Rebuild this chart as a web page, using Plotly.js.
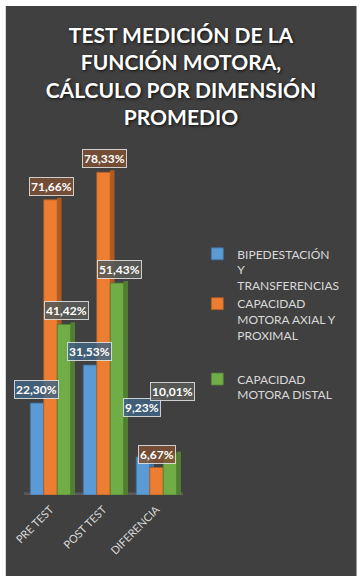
<!DOCTYPE html>
<html>
<head>
<meta charset="utf-8">
<script src="https://cdn.plot.ly/plotly-3.0.1.min.js"></script>
<style>
  html, body { margin: 0; padding: 0; background: #ffffff; }
  #frame { position: absolute; left: 5px; top: 6px; width: 350px; height: 570px;
           border-right: 1px solid #9a9a9a; border-left: 1px solid #d8d8d8; box-sizing: content-box; }
  #chart { width: 350px; height: 570px; }
</style>
</head>
<body>
<div id="frame"><div id="chart"></div></div>
<script>
// ---- data ----
const categories = ["PRE TEST", "POST TEST", "DIFERENCIA"];
const seriesNames = [
  "BIPEDESTACIÓN<br>Y<br>TRANSFERENCIAS",
  "CAPACIDAD<br>MOTORA AXIAL Y<br>PROXIMAL<br> ",
  "CAPACIDAD<br>MOTORA DISTAL"
];
const bipedestacion = [22.30, 31.53, 9.23];
const capacidadAxial = [71.66, 78.33, 6.67];
const capacidadDistal = [41.42, 51.43, 10.01];
const valueLabels = [
  ["22,30%", "31,53%", "9,23%"],
  ["71,66%", "78,33%", "6,67%"],
  ["41,42%", "51,43%", "10,01%"]
];
const titleText = "TEST MEDICIÓN DE LA<br>FUNCIÓN MOTORA,<br>CÁLCULO POR DIMENSIÓN<br>PROMEDIO";

// ---- styling ----
const seriesValues = [bipedestacion, capacidadAxial, capacidadDistal];
const faceColors = ["#5B9BD5", "#ED7D31", "#70AD47"];
const sideColors = ["#41719C", "#AE5A21", "#507E32"];
const labelBg = ["rgba(66,100,130,0.85)", "rgba(125,80,52,0.85)", "rgba(88,90,86,0.9)"];
const legendGroups = ["a", "a", "b"];
const BW = 15 / 59;          // bar width in category units
const SIDE = 5 / 59;         // 3D side width
const FONT = "Lato, 'Open Sans', sans-serif";
// extra vertical lift (px) for crowded labels, [series][category]
const labelLift = [[0, 0, 36], [0, 0, 0], [0, 0, 49]];

const traces = [];
const annotations = [];
seriesValues.forEach((vals, i) => {
  const off = -1.5 * BW + i * BW;
  traces.push({
    type: "bar", x: categories, y: vals.map(v => v + 0.5),
    offset: off + BW - 0.2 / 59, width: SIDE,
    marker: { color: sideColors[i], line: { width: 0 } },
    showlegend: false, hoverinfo: "skip", legendgroup: legendGroups[i]
  });
  traces.push({
    type: "bar", name: seriesNames[i], x: categories, y: vals,
    offset: off, width: BW, legendgroup: legendGroups[i],
    marker: { color: faceColors[i], line: { color: sideColors[i], width: 0.8 } }
  });
  vals.forEach((v, j) => {
    annotations.push({
      x: categories[j], y: v, xref: "x", yref: "y",
      xshift: (off + BW / 2) * 59 + 0.5, yshift: 4 + labelLift[i][j],
      yanchor: "bottom", xanchor: "center",
      text: "<b>" + valueLabels[i][j] + "</b>", showarrow: false,
      font: { family: FONT, size: 12, color: "#ffffff" },
      bgcolor: labelBg[i], bordercolor: "rgba(230,230,230,0.85)", borderwidth: 1, borderpad: 1
    });
  });
});

const layout = {
  width: 350, height: 570,
  paper_bgcolor: "#404040", plot_bgcolor: "rgba(0,0,0,0)",
  margin: { l: 18, r: 155, t: 77, b: 81, pad: 0 },
  barmode: "overlay",
  title: {
    text: titleText, x: 0.5, xanchor: "center", y: 0.935, yref: "container", yanchor: "top",
    font: { family: FONT, size: 21, color: "#ffffff", weight: 700, shadow: "1px 1px 3px rgba(0,0,0,0.8)" }
  },
  xaxis: {
    type: "category", range: [-0.5, 2.5], showgrid: false, zeroline: false, showline: false,
    ticks: "", tickangle: -45, ticklabelstandoff: 5,
    tickfont: { family: FONT, size: 11, color: "#d9d9d9" }
  },
  yaxis: { range: [0, 100], visible: false, fixedrange: true },
  legend: {
    x: 1.09, xanchor: "left", y: 0.62, yanchor: "top", valign: "top",
    font: { family: FONT, size: 12, color: "#d9d9d9" }, bgcolor: "rgba(0,0,0,0)",
    itemclick: false, tracegroupgap: 10, traceorder: "grouped"
  },
  shapes: [{
    type: "rect", xref: "x", yref: "y", x0: -0.5, x1: 2.62, y0: -0.8, y1: 0.6,
    fillcolor: "#5a5a5a", line: { width: 0 }, layer: "below"
  }],
  annotations: annotations,
  showlegend: true
};

Plotly.newPlot("chart", traces, layout, { displayModeBar: false, staticPlot: true });
</script>
</body>
</html>
